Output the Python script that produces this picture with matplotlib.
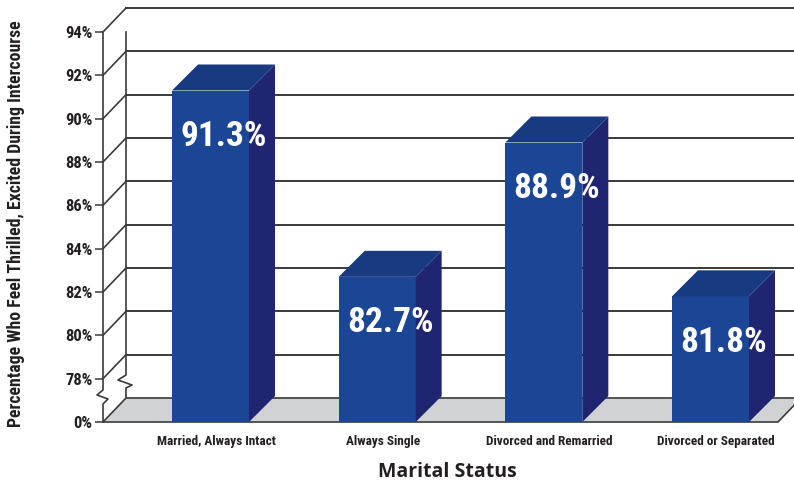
import matplotlib
matplotlib.use('Agg')
import matplotlib.pyplot as plt
from matplotlib.patches import Polygon, Rectangle

# data
categories = ['Married, Always Intact', 'Always Single',
              'Divorced and Remarried', 'Divorced or Separated']
values = [91.3, 82.7, 88.9, 81.8]
tick_values = [76, 78, 80, 82, 84, 86, 88, 90, 92, 94]
tick_labels = ['0%', '78%', '80%', '82%', '84%', '86%', '88%', '90%', '92%', '94%']

narrow = ['Roboto Condensed', 'Liberation Sans', 'DejaVu Sans']
wide = ['Open Sans', 'Liberation Sans', 'DejaVu Sans']
front_col = '#1b4696'
side_col = '#1f2571'
top_col = '#183a80'
line_col = '#3a3a3a'
text_col = '#231f20'

fig = plt.figure(figsize=(7.94, 4.87), dpi=100)
ax = fig.add_axes([103/794, 65/487, 675/794, 390/487])
x0, x1 = -0.645, 3.405
y0, y1 = 76, 94
ax.set_xlim(x0, x1)
ax.set_ylim(y0, y1)

# pixels per data unit, used for the fake 3d depth
sx = 675 / (x1 - x0)
sy = 390 / (y1 - y0)
wall_dx, wall_dy = 23 / sx, 24 / sy
bar_dx, bar_dy = 26 / sx, 26 / sy
bar_w = 77 / sx

def px(dx, dy):
    # offset in pixels from the front-bottom-left corner -> data coords
    return x0 + dx / sx, y0 + dy / sy

# back wall grid + diagonals to the front axis
for t in tick_values[1:]:
    ax.plot([x0 + wall_dx, x1 + wall_dx + 0.2], [t + wall_dy] * 2,
            color=line_col, lw=1.4, clip_on=False, zorder=1)
    ax.plot([x0, x0 + wall_dx], [t, t + wall_dy],
            color=line_col, lw=1.2, clip_on=False, zorder=1)

# back left edge with break
bx = [0, 0, -8, 6, 0, 0]
by = [390, 47, 42, 37, 34, 24]
ax.plot([px(23 + a, b)[0] for a, b in zip(bx, by)],
        [px(23 + a, b)[1] for a, b in zip(bx, by)],
        color=line_col, lw=1.2, clip_on=False, zorder=1)

# floor
floor = Polygon([(x0, y0), (x1, y0), (x1 + wall_dx, y0 + wall_dy),
                 (x0 + wall_dx, y0 + wall_dy)], closed=True,
                facecolor='#d1d2d4', edgecolor=line_col, lw=1.2,
                clip_on=False, zorder=2)
ax.add_patch(floor)

# front left axis with break
fx = [0, 0, -6, 5, 0, 0]
fy = [390, 32, 27, 23, 18, 0]
ax.plot([px(a, b)[0] for a, b in zip(fx, fy)],
        [px(a, b)[1] for a, b in zip(fx, fy)],
        color=line_col, lw=1.2, clip_on=False, zorder=3)

# bars
for i, v in enumerate(values):
    left = i - bar_w / 2
    right = left + bar_w
    ax.add_patch(Rectangle((left, y0), bar_w, v - y0, facecolor=front_col,
                           edgecolor='none', zorder=4))
    ax.add_patch(Polygon([(right, y0), (right + bar_dx, y0 + bar_dy),
                          (right + bar_dx, v + bar_dy), (right, v)],
                         closed=True, facecolor=side_col, edgecolor='none',
                         zorder=4))
    ax.add_patch(Polygon([(left, v), (right, v), (right + bar_dx, v + bar_dy),
                          (left + bar_dx, v + bar_dy)], closed=True,
                         facecolor=top_col, edgecolor='none', zorder=4,
                         clip_on=False))
    ax.annotate(f'{v}%', xy=(i + bar_dx / 2, v), xytext=(0, -33),
                textcoords='offset points', ha='center', va='center',
                color='white', fontsize=25.5, fontweight='bold',
                family=narrow, zorder=5)
    ax.annotate(categories[i], xy=(i, y0), xytext=(4, -14),
                textcoords='offset points', ha='center', va='center',
                fontsize=9.5, fontweight='bold', family=narrow,
                color=text_col, annotation_clip=False)

ax.set_yticks(tick_values)
ax.set_yticklabels(tick_labels)
ax.set_xticks([])
ax.tick_params(axis='y', length=6, width=1.1, pad=1.5, color=line_col,
               labelsize=12)
for lab in ax.get_yticklabels():
    lab.set_fontfamily(narrow)
    lab.set_fontweight('bold')
    lab.set_color(text_col)
for s in ax.spines.values():
    s.set_visible(False)
ax.patch.set_visible(False)

fig.text(16/794, 1 - 224/487,
         'Percentage Who Feel Thrilled, Excited During Intercourse',
         rotation=90, ha='center', va='center', fontsize=12.8,
         fontweight='bold', family=narrow, color=text_col)
fig.text(447/794, 1 - 472/487, 'Marital Status', ha='center', va='center',
         fontsize=14, fontweight='bold', family=wide,
         color=text_col)

fig.savefig('out.png', dpi=100)
